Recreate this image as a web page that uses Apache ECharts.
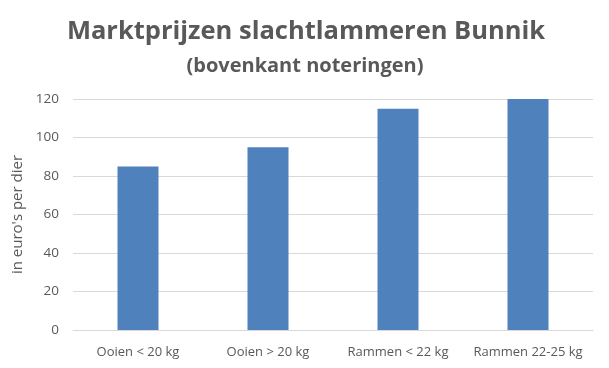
<!DOCTYPE html>
<html><head><meta charset="utf-8">
<script src="https://cdn.jsdelivr.net/npm/echarts@6/dist/echarts.min.js"></script>
<style>html,body{margin:0;padding:0;background:#fff}#c{width:609px;height:368px}</style>
</head><body><div id="c"></div>
<script>
const categories = ['Ooien < 20 kg', 'Ooien > 20 kg', 'Rammen < 22 kg', 'Rammen 22-25 kg'];
const values = [85, 95, 115, 120];
const yTicks = [0, 20, 40, 60, 80, 100, 120];
const chart = echarts.init(document.getElementById('c'));
const txt = '#595959';
const font = 'Open Sans';
chart.setOption({
  animation: false,
  title: [
    {text: 'Marktprijzen slachtlammeren Bunnik', left: 301, textAlign: 'center', top: 14,
     textStyle: {fontFamily: font, fontWeight: 'bold', fontSize: 25.5, color: txt}},
    {text: '(bovenkant noteringen)', left: 300, textAlign: 'center', top: 51,
     textStyle: {fontFamily: font, fontWeight: 'bold', fontSize: 20, color: txt}}
  ],
  grid: {left: 73, right: 16, top: 99, bottom: 38},
  xAxis: {type: 'category', data: categories,
    axisLine: {lineStyle: {color: '#d9d9d9'}}, axisTick: {show: false},
    axisLabel: {color: txt, fontFamily: font, fontSize: 13, margin: 16, interval: 0}},
  yAxis: {type: 'value', min: yTicks[0], max: yTicks[yTicks.length - 1], interval: 20,
    name: "in euro's per dier", nameLocation: 'middle', nameGap: 46,
    nameTextStyle: {color: txt, fontFamily: font, fontSize: 15},
    axisLine: {show: false}, axisTick: {show: false},
    axisLabel: {color: txt, fontFamily: font, fontSize: 13.5, margin: 14},
    splitLine: {lineStyle: {color: '#d9d9d9'}}},
  series: [{type: 'bar', data: values, barWidth: 41, itemStyle: {color: '#4f81bd'}}]
});
</script></body></html>
